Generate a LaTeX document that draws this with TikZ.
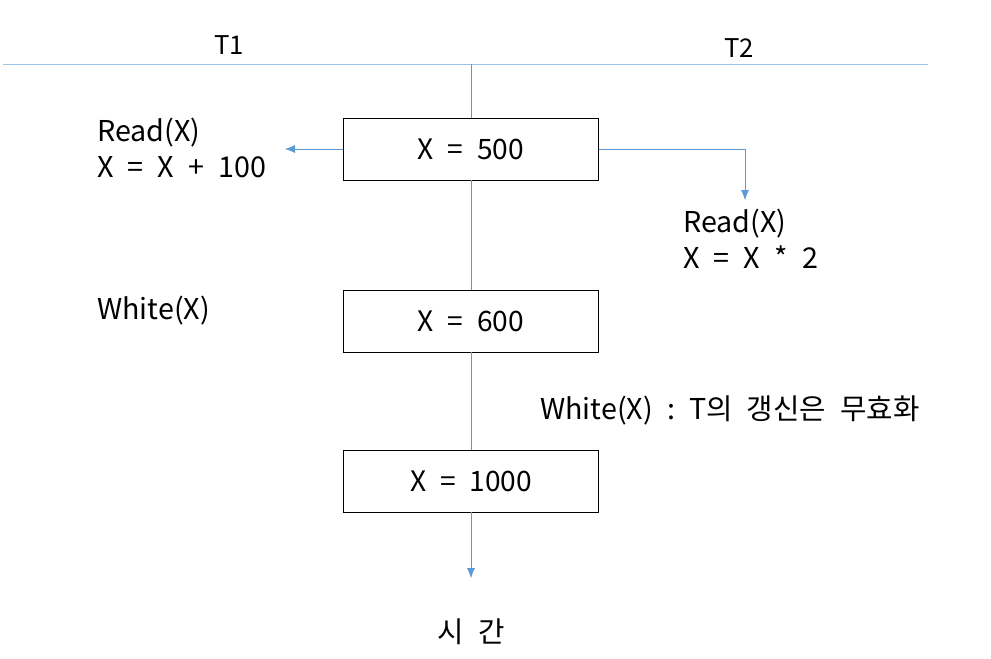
\documentclass[tikz,border=0pt]{standalone}
\usepackage{fontspec}
\setmainfont{Noto Sans CJK KR}
\newfontfamily\widefont[WordSpace=2.2]{Noto Sans CJK KR}
\usetikzlibrary{arrows.meta,positioning}
\definecolor{lineblue}{HTML}{5B9BD5}
\definecolor{topblue}{HTML}{9DC3E6}
\tikzset{
    valbox/.style = {draw, thick, minimum width=7.65cm, minimum height=1.86cm, font=\widefont\fontsize{24}{28}\selectfont},
    lbl/.style = {anchor=west, align=left, inner sep=0pt, font=\widefont\fontsize{24.5}{31}\selectfont},
    flow/.style = {lineblue, -{Latex[length=3mm, width=2.4mm]}}
}
\begin{document}
\begin{tikzpicture}[x=0.03cm, y=-0.03cm]
    \useasboundingbox (0,0) rectangle (991,658);
    % transactions
    \draw[topblue, thick] (3,64) -- (928,64);
    \node[lbl, font=\fontsize{22}{26}\selectfont] (t1) at (214,45) {T1};
    \node[lbl, font=\fontsize{22}{26}\selectfont] (t2) at (724,48) {T2};
    \coordinate (top) at (471,64);
    \coordinate (tend) at (471,578);
    % values of X
    \node[valbox] (b500) at (471,149) {X = 500};
    \node[valbox] (b600) at (471,321) {X = 600};
    \node[valbox] (b1000) at (471,481) {X = 1000};
    \draw[lineblue] (top) -- (b500.north);
    \draw[lineblue] (b500.south) -- (b600.north);
    \draw[lineblue] (b600.south) -- (b1000.north);
    \draw[flow] (b1000.south) -- (tend);
    % operations
    \node[lbl] (r1) at (97,148) {Read(X)\\X = X + 100};
    \node[lbl] (r2) at (683,239) {Read(X)\\X = X * 2};
    \node[lbl] (w1) at (97,311) {White(X)};
    \node[lbl] (w2) at (540,410) {White(X) : T의 갱신은 무효화};
    \coordinate (a1) at (285,149);
    \coordinate (a2) at (745,200);
    \draw[flow] (b500.west) -- (a1);
    \draw[flow] (b500.east) -| (a2);
    \node[lbl, anchor=center] (time) at (471,632) {시 간};
\end{tikzpicture}
\end{document}
